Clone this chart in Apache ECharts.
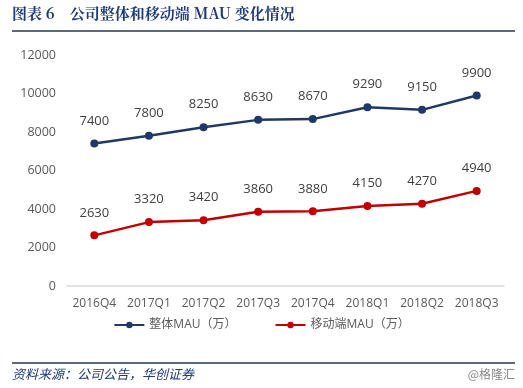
<!DOCTYPE html>
<html><head><meta charset="utf-8">
<script src="https://cdn.jsdelivr.net/npm/echarts@6/dist/echarts.min.js"></script>
<style>html,body{margin:0;padding:0;background:#fff}#c{width:523px;height:388px}</style>
</head><body><div id="c"></div>
<script>
const categories = ['2016Q4','2017Q1','2017Q2','2017Q3','2017Q4','2018Q1','2018Q2','2018Q3'];
const totalMAU = [7400,7800,8250,8630,8670,9290,9150,9900];
const mobileMAU = [2630,3320,3420,3860,3880,4150,4270,4940];
const yTicks = [0,2000,4000,6000,8000,10000,12000];
const seriesNames = ['整体MAU（万）','移动端MAU（万）'];

const chart = echarts.init(document.getElementById('c'), null, {renderer:'canvas'});
const font = '"Open Sans","Noto Sans CJK SC",sans-serif';
chart.setOption({
  animation:false,
  backgroundColor:'#fff',
  textStyle:{fontFamily:font},
  graphic:[
    {type:'text',left:12,top:6,style:{text:'图表 6    公司整体和移动端 MAU 变化情况',font:'bold 15px "Noto Serif CJK SC","Noto Sans CJK SC",serif',fill:'#1f3a78'}},
    {type:'rect',shape:{x:12,y:30,width:503,height:2},style:{fill:'#5a6a80'}},
    {type:'rect',shape:{x:12,y:362,width:503,height:2},style:{fill:'#5a6a80'}},
    {type:'text',left:12,top:368,style:{text:'资料来源：公司公告，华创证券',font:'italic 13px "Noto Sans CJK SC",sans-serif',fill:'#1f3a78'}},
    {type:'text',right:8,top:368,style:{text:'@格隆汇',font:'12px "Noto Sans CJK SC",sans-serif',fill:'#888'}}
  ],
  legend:{
    bottom:52,left:'center',itemGap:38,itemWidth:30,itemHeight:8,
    textStyle:{color:'#595959',fontSize:12,fontFamily:font},
    data:seriesNames
  },
  grid:{left:67,right:19,top:55,bottom:102},
  xAxis:{
    type:'category',data:categories,boundaryGap:true,
    axisLine:{lineStyle:{color:'#d9d9d9',width:1.5}},
    axisTick:{show:false},
    axisLabel:{interval:0,color:'#595959',fontSize:12,margin:12,fontFamily:font}
  },
  yAxis:{
    type:'value',min:yTicks[0],max:yTicks[yTicks.length-1],interval:2000,
    axisLine:{show:false},axisTick:{show:false},splitLine:{show:false},
    axisLabel:{formatter:v=>String(v),color:'#595959',fontSize:12.5,margin:11,fontFamily:font}
  },
  series:[
    {name:seriesNames[0],type:'line',data:totalMAU,symbol:'circle',symbolSize:8,
     color:'#1f3864',lineStyle:{width:2.5,color:'#1f3864'},itemStyle:{color:'#1f3864'},
     label:{show:true,position:'top',distance:12,color:'#404040',fontSize:13,fontFamily:font}},
    {name:seriesNames[1],type:'line',data:mobileMAU,symbol:'circle',symbolSize:8,
     color:'#c00000',lineStyle:{width:2.5,color:'#c00000'},itemStyle:{color:'#c00000'},
     label:{show:true,position:'top',distance:12,color:'#404040',fontSize:13,fontFamily:font}}
  ]
});
</script></body></html>
